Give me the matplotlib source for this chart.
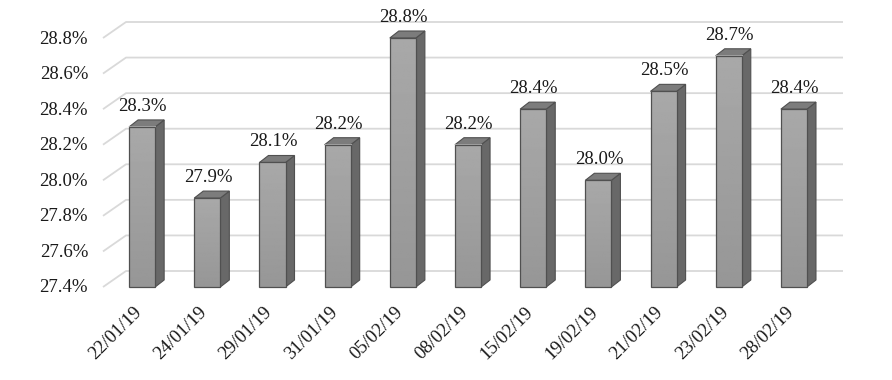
import matplotlib

matplotlib.use("Agg")

import matplotlib.pyplot as plt
import numpy as np
from matplotlib.patches import Polygon, Rectangle

dates = ["22/01/19", "24/01/19", "29/01/19", "31/01/19", "05/02/19", "08/02/19",
         "15/02/19", "19/02/19", "21/02/19", "23/02/19", "28/02/19"]
values = [28.3, 27.9, 28.1, 28.2, 28.8, 28.2, 28.4, 28.0, 28.5, 28.7, 28.4]
y_ticks = [27.4, 27.6, 27.8, 28.0, 28.2, 28.4, 28.6, 28.8]

FONT = "Liberation Serif"
FS = 13.5
W, H, DPI = 892, 380, 100

fig = plt.figure(figsize=(W / DPI, H / DPI), dpi=DPI, facecolor="white")
# front plane: 27.4 -> y=287px, 28.8 -> y=38px; x from 103px to 820px
ax = fig.add_axes([103 / W, (H - 287) / H, (820 - 103) / W, (287 - 38) / H])
ax.set_xlim(-0.6, 10.4)
ax.set_ylim(27.4, 28.8)
ax.axis("off")

# pixel -> data unit conversion
ppx = (820 - 103) / 11.0
ppy = (287 - 38) / 1.4


def off(px, py):
    return px / ppx, py / ppy


# walls / gridlines with 3D depth
gdx, gdy = off(23, 16)
x_left, x_right = -0.6, 10.4
for v in y_ticks:
    ax.plot([x_left, x_left + gdx, x_right + gdx], [v, v + gdy, v + gdy],
            color="#d9d9d9", lw=1.3, clip_on=False, zorder=0,
            solid_capstyle="butt")
    ax.text(x_left - off(15, 0)[0], v + off(0, -1)[1], f"{v:.1f}%",
            ha="right", va="center", fontsize=FS, family=FONT, color="#1a1a1a")

# bars
bw = 0.4
bdx, bdy = off(9, 7)
grad = np.linspace(0.66, 0.59, 100).reshape(-1, 1)
edge = "#505050"
for i, v in enumerate(values):
    x0, x1 = i - bw / 2, i + bw / 2
    y0 = 27.4
    side = Polygon([(x1, y0), (x1 + bdx, y0 + bdy), (x1 + bdx, v + bdy), (x1, v)],
                   closed=True, fc="#686868", ec=edge, lw=0.8, zorder=2,
                   clip_on=False)
    top = Polygon([(x0, v), (x0 + bdx, v + bdy), (x1 + bdx, v + bdy), (x1, v)],
                  closed=True, fc="#7c7c7c", ec=edge, lw=0.8, zorder=2,
                  clip_on=False)
    ax.add_patch(side)
    ax.add_patch(top)
    ax.imshow(grad, extent=(x0, x1, y0, v), cmap="gray", vmin=0, vmax=1,
              aspect="auto", origin="upper", zorder=3, clip_on=False)
    ax.add_patch(Rectangle((x0, y0), bw, v - y0, fc="none", ec=edge, lw=0.9,
                           zorder=4, clip_on=False))
    ax.text(i + 0.01, v + off(0, 12)[1], f"{v:.1f}%", ha="center", va="bottom",
            fontsize=FS, family=FONT, color="#1a1a1a")
    ax.text(i - off(9, 0)[0], y0 - off(0, 17)[1], dates[i], ha="right", va="top",
            rotation=45, rotation_mode="anchor", fontsize=FS, family=FONT,
            color="#1a1a1a")

ax.set_xlim(-0.6, 10.4)
ax.set_ylim(27.4, 28.8)

fig.savefig("out.png", dpi=DPI, facecolor="white")
